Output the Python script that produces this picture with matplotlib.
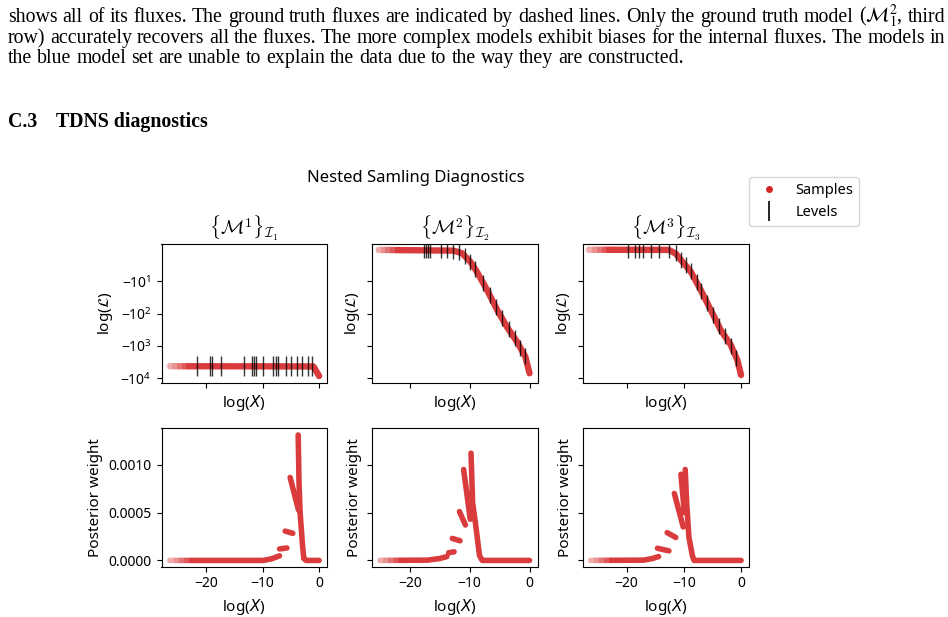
import numpy as np
import matplotlib
matplotlib.use("Agg")
import matplotlib.pyplot as plt
import matplotlib.transforms as mtransforms
from matplotlib.lines import Line2D
from matplotlib.ticker import FormatStrFormatter, NullLocator

plt.rcParams['font.family'] = ['Noto Sans', 'DejaVu Sans']

# ---- values ----
# top row: log-likelihood of the samples vs log(X)
s1_x = [-26.5, -10.0, -1.0, -0.4, 0.0]
s1_logl = [-4230, -4250, -4300, -6450, -8500]
s2_x = [-25.2, -12.7, -11.3, -9.9, -8.8, -7.1, -5.4, -3.8, -2.1, -0.7, 0.0]
s2_logl = [-1.50, -1.54, -1.68, -2.43, -4.97, -18.3, -76, -252, -734, -2140, -7000]
s3_x = [-26.6, -12.6, -11.4, -10.3, -8.8, -7.06, -5.3, -3.57, -1.8, -0.65, 0.0]
s3_logl = [-1.49, -1.50, -1.71, -2.39, -4.9, -18.1, -75.7, -316, -925, -2700, -7900]

# levels
l1_x = [-21.65, -19.3, -19.0, -17.35, -13.3, -11.9, -11.6, -11.2, -10.0, -8.1,
        -7.7, -7.2, -5.9, -5.0, -3.95, -3.05, -1.9, -1.2]
l1_logl = [-4230] * len(l1_x)
l2_x = [-17.55, -17.27, -17.0, -16.55, -14.7, -13.77, -12.77, -11.7, -10.7, -9.9,
        -9.05, -7.77, -6.67, -5.6, -4.6, -3.5, -2.5, -1.55, -0.72]
l2_logl = [-1.50, -1.50, -1.50, -1.50, -1.51, -1.52, -1.55, -1.63, -1.86, -2.43,
           -4.2, -11, -26, -64, -139, -303, -571, -1120, -2100]
l3_x = [-19.77, -18.6, -17.85, -17.1, -15.8, -14.35, -12.6, -11.43, -10.56, -9.7,
        -8.8, -7.76, -6.94, -5.9, -4.85, -3.86, -2.8, -1.7, -0.82]
l3_logl = [-1.49, -1.49, -1.49, -1.49, -1.49, -1.49, -1.50, -1.68, -2.11, -3.18,
           -4.9, -10.7, -20, -46.5, -110, -248, -503, -1014, -2300]

# bottom row: posterior weight vs log(X), NaN separates the clusters
nan = np.nan
w1_x = [-26.5, -9.9, -8.4, -7.0, nan, -7.0, -5.7, nan, -6.0, -4.65, nan,
        -5.13, -3.66, nan, -3.7, -3.55, -3.36, -2.95, -2.7, -2.3, 0.0]
w1_y = [0, 0, 0.000017, 0.000048, nan, 0.00012, 0.00013, nan, 0.000306, 0.000283, nan,
        0.000867, 0.000528, nan, 0.00131, 0.00080, 0.00050, 0.00017, 0.00002, 0, 0]
w2_x = [-25.0, -17.0, -15.0, -13.8, nan, -13.5, -12.6, nan, -12.9, -11.6, nan,
        -11.7, -10.7, nan, -11.0, -9.9, nan, -9.77, -9.5, -9.05, -8.35, -7.9, 0.0]
w2_y = [0, 0.000003, 0.00002, 0.00004, nan, 0.00008, 0.00009, nan, 0.00023, 0.000205, nan,
        0.00051, 0.00037, nan, 0.00095, 0.00043, nan, 0.00112, 0.0006, 0.0004, 0.00005, 0, 0]
w3_x = [-26.3, -17.0, -15.5, -14.4, nan, -14.6, -12.6, nan, -12.9, -11.4, nan,
        -11.65, -10.1, nan, -10.5, -9.9, nan, -9.75, -9.5, -9.1, -8.5, -8.2, 0.0]
w3_y = [0, 0.000003, 0.00002, 0.00004, nan, 0.000127, 0.0001, nan, 0.00029, 0.00024, nan,
        0.0007, 0.00035, nan, 0.0009, 0.0005, nan, 0.00095, 0.0006, 0.00024, 0.00005, 0, 0]

titles = [r'$\{\mathcal{M}^1\}_{\mathcal{I}_1}$',
          r'$\{\mathcal{M}^2\}_{\mathcal{I}_2}$',
          r'$\{\mathcal{M}^3\}_{\mathcal{I}_3}$']

para = [
    r"shows all of its fluxes. The ground truth fluxes are indicated by dashed lines. Only the ground truth model ($\mathcal{M}_1^2$, third",
    "row) accurately recovers all the fluxes. The more complex models exhibit biases for the internal fluxes. The models in",
    "the blue model set are unable to explain the data due to the way they are constructed.",
]

RED = '#d62728'
W, H = 948, 617
fig = plt.figure(figsize=(W / 100, H / 100), dpi=100)
r = fig.canvas.get_renderer()


def band(ax, x, y, lw, x_solid, alpha=0.9, n=6):
    # thick sample band, fading in at the sparse left end
    blend = mtransforms.blended_transform_factory(ax.transData, ax.transAxes)
    edges = np.linspace(x[0] - 2, x_solid, n + 1)
    alphas = np.linspace(0.12, alpha, n + 1)
    wins = list(zip(edges[:-1], edges[1:], alphas[:-1])) + [(x_solid, 5, alpha)]
    for a, b, al in wins:
        ln, = ax.plot(x, y, color=RED, lw=lw, alpha=al, solid_capstyle='round',
                      solid_joinstyle='round')
        ln.set_clip_path(plt.Rectangle((a, 0), b - a, 1, transform=blend))


# ---- text of the page ----
def text_line(s, y, x0, x1, justify, size, **kw):
    words = s.split(' ')
    objs = [fig.text(0, 1 - y / H, w, fontsize=size, va='baseline', **kw) for w in words]
    widths = [o.get_window_extent(r).width for o in objs]
    if justify:
        gap = (x1 - x0 - sum(widths)) / (len(words) - 1)
    else:
        gap = size * 100 / 72 * 0.25
    x = x0
    for o, w in zip(objs, widths):
        o.set_x(x / W)
        x += w + gap


pkw = dict(family='Liberation Serif', math_fontfamily='stix')
# fit the font size to the width of the last line
probe = fig.text(0, 0, para[2], fontsize=12, **pkw)
psize = 12 * 672 / probe.get_window_extent(r).width
probe.remove()
for i, (s, yb) in enumerate(zip(para, [22.0, 43.0, 63.0])):
    text_line(s, yb, 8, 945, i < 2, psize, **pkw)

hkw = dict(family='Liberation Serif', fontweight='bold', va='baseline')
probe = fig.text(0, 0, 'TDNS diagnostics', fontsize=12, **{k: v for k, v in hkw.items() if k != 'va'})
hsize = 12 * 151 / probe.get_window_extent(r).width
probe.remove()
fig.text(8 / W, 1 - 127 / H, 'C.3', fontsize=hsize, **hkw)
fig.text(56 / W, 1 - 127 / H, 'TDNS diagnostics', fontsize=hsize, **hkw)

# ---- the diagnostics figure ----
fig.text(415.8 / W, 1 - 178 / H, 'Nested Samling Diagnostics', ha='center', va='center',
         fontsize=12)

lefts = [161.5, 372, 583]
aw, ah = 165.5, 139
xlims = [(-27.9, 1.4), (-26.3, 1.33), (-27.6, 1.3)]
samples = [(s1_x, s1_logl), (s2_x, s2_logl), (s3_x, s3_logl)]
levels = [(l1_x, l1_logl), (l2_x, l2_logl), (l3_x, l3_logl)]
weights = [(w1_x, w1_y), (w2_x, w2_y), (w3_x, w3_y)]
fade_top = [-23.5, -22.5, -23.5]
fade_bot = [-23.0, -22.0, -23.0]
level_ms = [14, 11, 11]

for i in range(3):
    axt = fig.add_axes([lefts[i] / W, 1 - 383 / H, aw / W, ah / H])
    axb = fig.add_axes([lefts[i] / W, 1 - 566.7 / H, aw / W, 138.4 / H])

    sx, sy = samples[i]
    axt.set_yscale('symlog')
    band(axt, sx, sy, 4.6, fade_top[i])
    lx, ly = levels[i]
    axt.plot(lx, ly, ls='none', marker='|', ms=level_ms[i], mew=1.0, color='k', alpha=0.8)
    axt.set_ylim(-13970, -1.17)
    axt.yaxis.set_minor_locator(NullLocator())
    axt.set_xlim(*xlims[i])
    axt.set_xticks([-20, -10, 0])
    axt.tick_params(labelbottom=False, labelsize=10)
    axt.set_xlabel('log($X$)', fontsize=11)
    axt.set_title(titles[i], math_fontfamily='cm', fontsize=14)

    wx, wy = weights[i]
    band(axb, wx, wy, 4.0, fade_bot[i])
    axb.set_ylim(-0.0000656, 0.00138)
    axb.set_yticks([0, 0.0005, 0.0010])
    axb.yaxis.set_major_formatter(FormatStrFormatter('%.4f'))
    axb.set_xlim(*xlims[i])
    axb.set_xticks([-20, -10, 0])
    axb.tick_params(labelsize=10)
    axb.set_xlabel('log($X$)', fontsize=11)
    axb.set_ylabel('Posterior weight', fontsize=11)
    axt.set_ylabel(r'log($\mathcal{L}$)', fontsize=11)
    if i > 0:
        axt.tick_params(labelleft=False)
        axb.tick_params(labelleft=False)

handles = [Line2D([], [], ls='none', marker='o', ms=4, color=RED),
           Line2D([], [], ls='none', marker='|', ms=14, mew=1.2, color='k')]
fig.legend(handles, ['Samples', 'Levels'], loc='upper left', borderaxespad=0,
           bbox_to_anchor=(749 / W, 1 - 177 / H), fontsize=10.5)

fig.savefig('out.png', dpi=100)
